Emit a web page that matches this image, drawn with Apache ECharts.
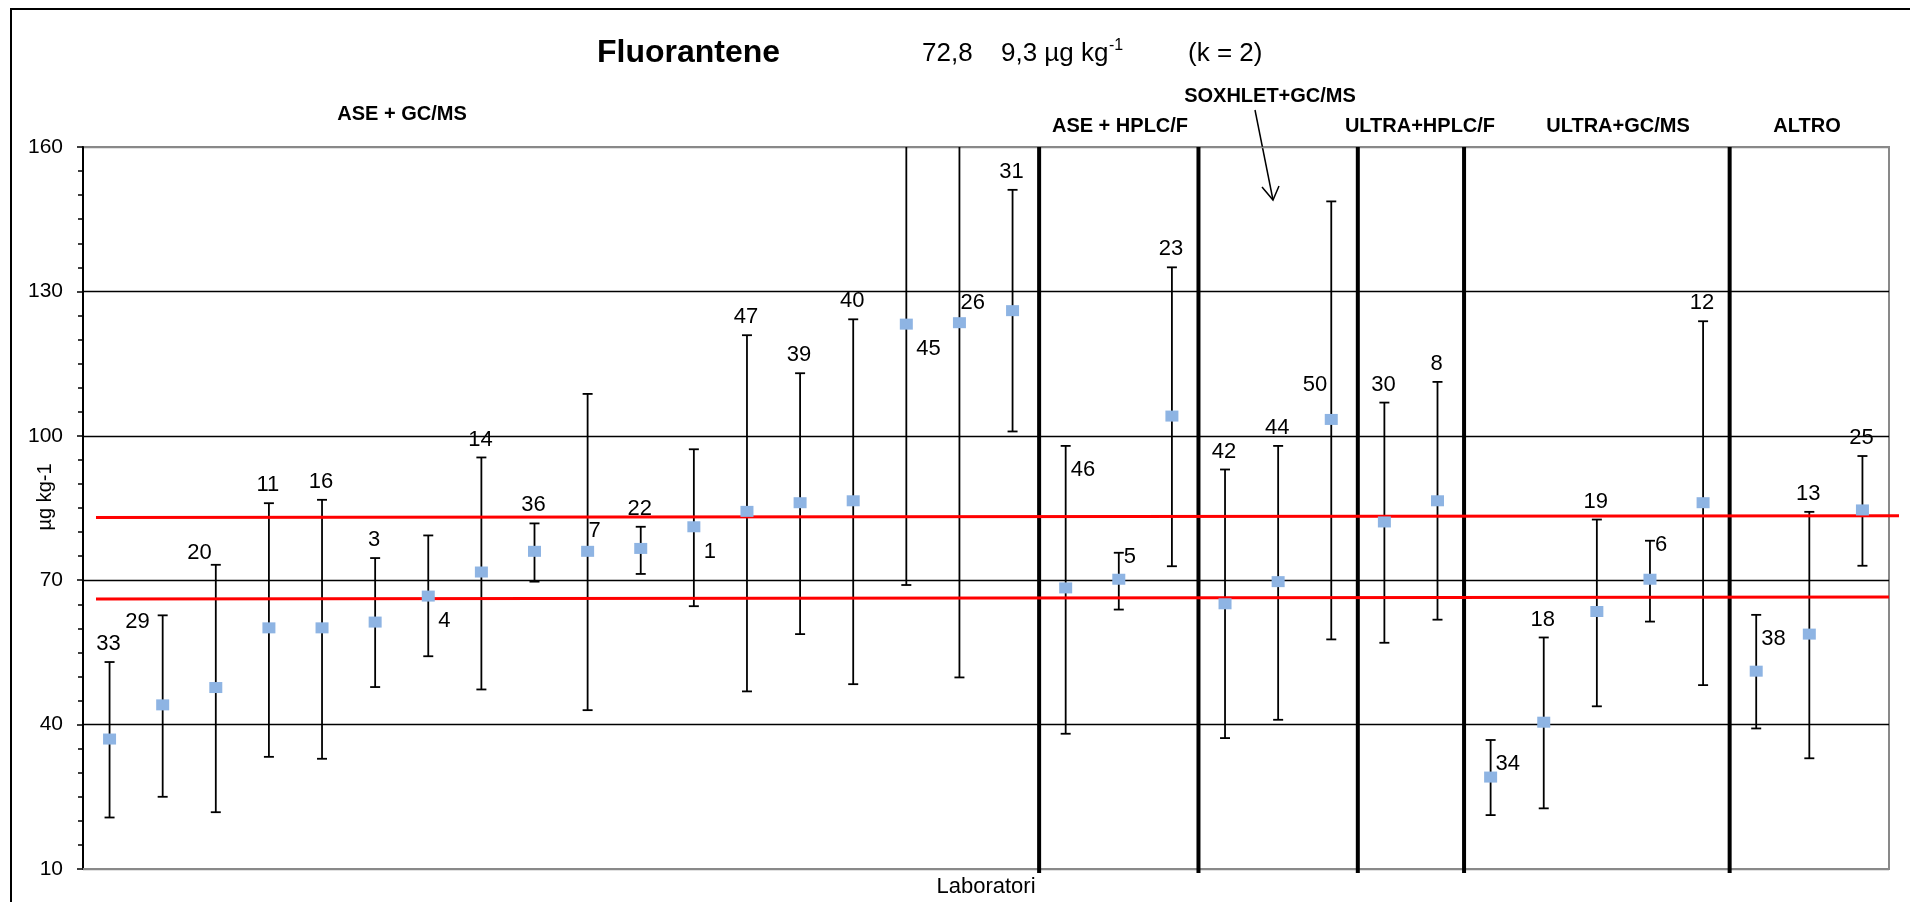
<!DOCTYPE html>
<html>
<head>
<meta charset="utf-8">
<title>Fluorantene</title>
<script src="https://cdn.jsdelivr.net/npm/echarts@6.0.0/dist/echarts.min.js"></script>
<style>
    html, body { margin: 0; padding: 0; background: #fff; }
    #main { width: 1910px; height: 902px; }
</style>
</head>
<body>
<div id="main"></div>
<script type="text/javascript">
// laboratori, nell'ordine del grafico
var labs = ['33','29','20','11','16','3','4','14','36','7','22','1','47','39','40','45','26','31',
            '46','5','23','42','44','50','30','8','34','18','19','6','12','38','13','25'];
// valore medio (µg kg-1)
var values = [37.0,44.1,47.7,60.1,60.1,61.3,66.7,71.7,76.0,76.0,76.6,81.1,84.3,86.1,86.5,123.2,123.5,126.0,
              68.4,70.2,104.1,65.1,69.7,103.4,82.1,86.5,29.1,40.5,63.5,70.2,86.1,51.1,58.8,84.6];
// estremi incertezza
var upper = [53.0,62.7,73.2,86.0,86.7,74.6,79.3,95.5,81.8,108.7,81.1,97.2,120.9,113.0,124.2,177.4,197.2,151.1,
             97.9,75.7,135.0,93.0,97.9,148.7,106.9,111.2,36.8,58.1,82.6,78.2,123.8,62.8,84.2,95.8];
var lower = [20.7,25.0,21.8,33.3,32.9,47.8,54.2,47.3,69.7,43.0,71.3,64.6,46.9,58.8,48.4,69.0,49.8,100.9,
             38.1,63.9,72.9,37.2,41.0,57.7,57.0,61.8,21.2,22.6,43.8,61.4,48.2,39.2,33.0,73.0];
// metodi e numero di laboratori per metodo
var groupNames = ['ASE + GC/MS','ASE + HPLC/F','SOXHLET+GC/MS','ULTRA+HPLC/F','ULTRA+GC/MS','ALTRO'];
var groupSizes = [18, 3, 3, 2, 5, 3];
// linee rosse (valore a sinistra, valore a destra)
var refLines = [[83.05, 83.4], [66.1, 66.5]];
var yTicks = [10, 40, 70, 100, 130, 160];

var FONT = '"Liberation Sans", Arial, sans-serif';
var myChart = echarts.init(document.getElementById('main'));

// dove mettere il numero del laboratorio (default sopra la barra)
var labelSide = {
    '29': 'left', '20': 'topLeft', '4': 'downRight', '1': 'downRight', '45': 'downRight',
    '7': 'upRight', '26': 'upRight', '50': 'upLeft',
    '46': 'capRightLow', '34': 'capRightLow', '38': 'capRightLow', '5': 'capRight', '6': 'capRight'
};
function labelPos(side, X, T, M) {
    switch (side) {
        case 'left': return {x: X - 13, y: T + 7, align: 'right'};
        case 'topLeft': return {x: X - 4, y: T - 12, align: 'right'};
        case 'downRight': return {x: X + 10, y: M + 25, align: 'left'};
        case 'upRight': return {x: X + 1, y: M - 20, align: 'left'};
        case 'upLeft': return {x: X - 4, y: M - 34, align: 'right'};
        case 'capRightLow': return {x: X + 5, y: T + 24, align: 'left'};
        case 'capRight': return {x: X + 5, y: T + 4, align: 'left'};
        default: return {x: X - 1, y: T - 18, align: 'center'};
    }
}

var errData = [];
for (var i = 0; i < labs.length; i++) {
    errData.push([i, upper[i], lower[i], values[i]]);
}

function renderErr(params, api) {
    var cs = params.coordSys;
    var idx = api.value(0);
    var top = api.coord([idx, api.value(1)]);
    var bot = api.coord([idx, api.value(2)]);
    var mid = api.coord([idx, api.value(3)]);
    var X = mid[0], T = top[1], B = bot[1];
    var clipped = T < cs.y;
    var lineStyle = {stroke: '#000', lineWidth: 1.8};
    var children = [
        {type: 'line', shape: {x1: X, y1: clipped ? cs.y : T, x2: X, y2: B}, style: lineStyle},
        {type: 'line', shape: {x1: X - 5, y1: B, x2: X + 5, y2: B}, style: lineStyle}
    ];
    if (!clipped) {
        children.push({type: 'line', shape: {x1: X - 5, y1: T, x2: X + 5, y2: T}, style: lineStyle});
    }
    var lab = labs[params.dataIndex];
    var p = labelPos(labelSide[lab], X, T, mid[1]);
    children.push({
        type: 'text', x: p.x, y: p.y,
        style: {text: lab, fill: '#000', font: '22px ' + FONT, align: p.align, verticalAlign: 'middle'}
    });
    return {type: 'group', children: children};
}

// separatori dei metodi e linee rosse
function renderFrame(params, api) {
    var cs = params.coordSys;
    var children = [];
    var k = 0;
    for (var g = 0; g < groupSizes.length - 1; g++) {
        k += groupSizes[g];
        var xa = api.coord([k - 1, yTicks[0]])[0];
        var xb = api.coord([k, yTicks[0]])[0];
        var xm = (xa + xb) / 2;
        children.push({type: 'line', shape: {x1: xm, y1: cs.y, x2: xm, y2: cs.y + cs.height + 4},
            style: {stroke: '#000', lineWidth: 4}});
    }
    for (var r = 0; r < refLines.length; r++) {
        var yl = api.coord([0, refLines[r][0]])[1];
        var yr = api.coord([0, refLines[r][1]])[1];
        var xEnd = cs.x + cs.width + (r === 0 ? 10 : 0);
        children.push({type: 'line', shape: {x1: cs.x + 13, y1: yl, x2: xEnd, y2: yr},
            style: {stroke: '#ff0000', lineWidth: 3}});
    }
    return {type: 'group', children: children};
}

// etichette dei metodi
var groupLabelPos = [[402, 114], [1120, 126], [1270, 96], [1420, 126], [1618, 126], [1807, 126]];
var graphics = [
    {type: 'rect', shape: {x: 11, y: 9, width: 2000, height: 1000}, style: {fill: 'none', stroke: '#000', lineWidth: 2}},
    {type: 'text', x: 597, y: 53, style: {text: 'Fluorantene', font: 'bold 32px ' + FONT, fill: '#000', verticalAlign: 'middle'}},
    {type: 'text', x: 922, y: 54, style: {text: '72,8', font: '26px ' + FONT, fill: '#000', verticalAlign: 'middle'}},
    {type: 'text', x: 1001, y: 54, style: {text: '9,3 µg kg', font: '26px ' + FONT, fill: '#000', verticalAlign: 'middle'}},
    {type: 'text', x: 1109, y: 46, style: {text: '-1', font: '16px ' + FONT, fill: '#000', verticalAlign: 'middle'}},
    {type: 'text', x: 1188, y: 54, style: {text: '(k = 2)', font: '26px ' + FONT, fill: '#000', verticalAlign: 'middle'}},
    {type: 'text', x: 45, y: 497, rotation: Math.PI / 2,
        style: {text: 'µg kg-1', font: '20px ' + FONT, fill: '#000', align: 'center', verticalAlign: 'middle'}},
    // freccia SOXHLET
    {type: 'polyline', shape: {points: [[1255, 110], [1273, 200]]}, style: {stroke: '#000', lineWidth: 1.5, fill: 'none'}},
    {type: 'polyline', shape: {points: [[1262, 187], [1273, 200], [1279, 186]]}, style: {stroke: '#000', lineWidth: 1.5, fill: 'none'}}
];
for (var g = 0; g < groupNames.length; g++) {
    graphics.push({type: 'text', x: groupLabelPos[g][0], y: groupLabelPos[g][1],
        style: {text: groupNames[g], font: 'bold 20px ' + FONT, fill: '#000', align: 'center', verticalAlign: 'middle'}});
}

var chartOption = {
    animation: false,
    backgroundColor: '#fff',
    textStyle: {fontFamily: FONT},
    grid: {left: 83, right: 21, top: 147, bottom: 33, show: true, borderColor: '#898989', borderWidth: 2,
           containLabel: false, outerBoundsMode: 'none'},
    graphic: graphics,
    xAxis: {
        type: 'category',
        data: labs,
        boundaryGap: true,
        name: 'Laboratori',
        nameLocation: 'middle',
        nameGap: 7,
        nameTextStyle: {color: '#000', fontSize: 22, verticalAlign: 'top'},
        axisLine: {show: true, lineStyle: {color: '#898989', width: 2}},
        axisTick: {show: false},
        axisLabel: {show: false},
        splitLine: {show: false}
    },
    yAxis: {
        type: 'value',
        min: yTicks[0],
        max: yTicks[yTicks.length - 1],
        interval: yTicks[1] - yTicks[0],
        axisLine: {show: true, lineStyle: {color: '#000', width: 2}},
        axisTick: {show: true, length: 6, lineStyle: {color: '#000', width: 1.5}},
        minorTick: {show: true, splitNumber: 6, length: 5, lineStyle: {color: '#000', width: 1.5}},
        axisLabel: {color: '#000', fontSize: 21, margin: 20},
        splitLine: {show: true, lineStyle: {color: ['#898989', '#000', '#000', '#000', '#000', '#898989'], width: 1.3}}
    },
    series: [
        {
            type: 'custom',
            renderItem: renderFrame,
            data: [[0, refLines[0][0]]],
            encode: {x: 0, y: 1},
            clip: false,
            silent: true,
            z: 3
        },
        {
            type: 'custom',
            renderItem: renderErr,
            data: errData,
            encode: {x: 0, y: [1, 2]},
            clip: false,
            silent: true,
            z: 2
        },
        {
            type: 'scatter',
            data: values,
            symbol: 'rect',
            symbolSize: [13, 11],
            itemStyle: {color: '#8EB4E3', opacity: 1},
            z: 5
        }
    ]
};
myChart.setOption(chartOption);
</script>
</body>
</html>
